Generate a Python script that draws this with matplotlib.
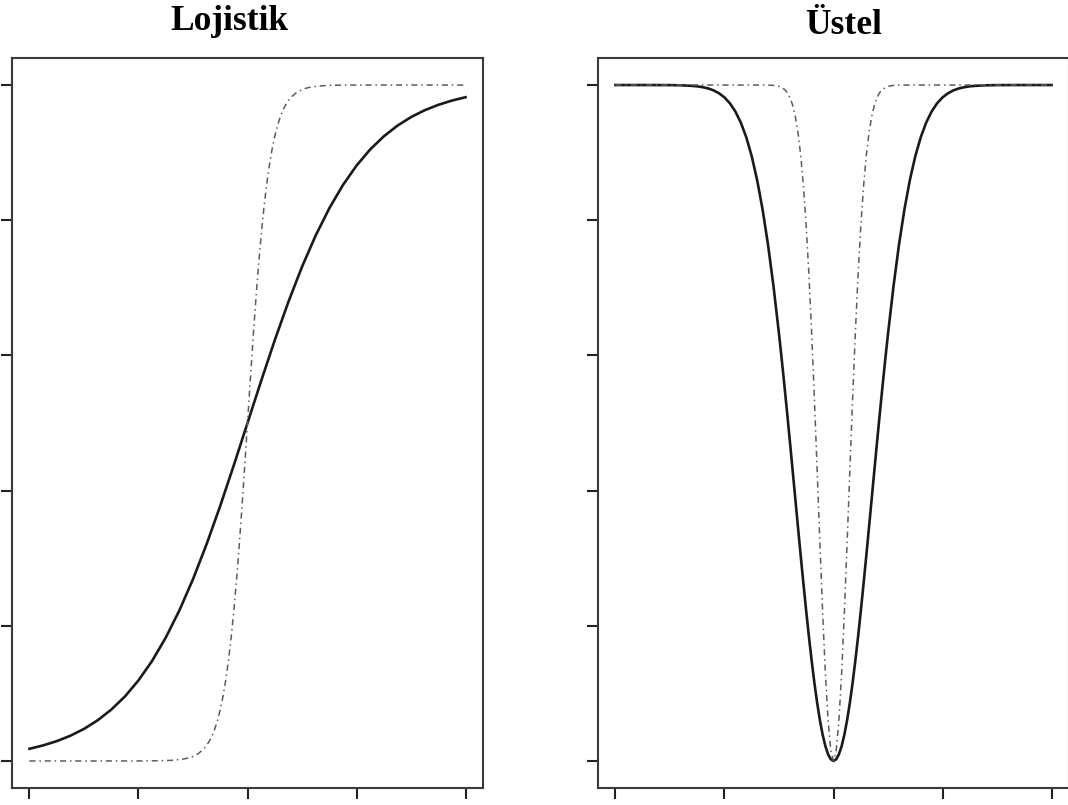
import matplotlib
matplotlib.use("Agg")
import matplotlib.pyplot as plt

# panel titles
titles = ["Lojistik", "Üstel"]
x_ticks = [-4, -2, 0, 2, 4]
y_ticks = [0.0, 0.2, 0.4, 0.6, 0.8, 1.0]

# Lojistik panel, solid curve
lojistik_x = [-4, -3.75, -3.5, -3.25, -3, -2.75, -2.5, -2.25, -2, -1.75, -1.5, -1.25, -1, -0.75, -0.5, -0.25,
              0, 0.25, 0.5, 0.75, 1, 1.25, 1.5, 1.75, 2, 2.25, 2.5, 2.75, 3, 3.25, 3.5, 3.75, 4]
lojistik_y = [0.0180, 0.0230, 0.0293, 0.0373, 0.0474, 0.0601, 0.0759, 0.0953, 0.1192, 0.1480, 0.1824, 0.2227,
              0.2689, 0.3208, 0.3775, 0.4378, 0.5, 0.5622, 0.6225, 0.6792, 0.7311, 0.7773, 0.8176, 0.8520,
              0.8808, 0.9047, 0.9241, 0.9399, 0.9526, 0.9627, 0.9707, 0.9770, 0.9820]

# Lojistik panel, steep dash-dot curve
lojistik_steep_x = [-4, -3, -2, -1.6, -1.4, -1.2, -1.1, -1.0, -0.9, -0.8, -0.75, -0.7, -0.65, -0.6, -0.55,
                    -0.5, -0.45, -0.4, -0.35, -0.3, -0.25, -0.2, -0.15, -0.1, -0.05,
                    0, 0.05, 0.1, 0.15, 0.2, 0.25, 0.3, 0.35, 0.4, 0.45, 0.5, 0.55, 0.6, 0.65, 0.7, 0.75,
                    0.8, 0.9, 1.0, 1.1, 1.2, 1.4, 1.6, 2, 3, 4]
lojistik_steep_y = [0.0, 0.0, 0.0, 0.0003, 0.0009, 0.0025, 0.0041, 0.0067, 0.0110, 0.0180, 0.0230, 0.0293,
                    0.0373, 0.0474, 0.0601, 0.0759, 0.0953, 0.1192, 0.1480, 0.1824, 0.2227, 0.2689, 0.3208,
                    0.3775, 0.4378,
                    0.5, 0.5622, 0.6225, 0.6792, 0.7311, 0.7773, 0.8176, 0.8520, 0.8808, 0.9047, 0.9241,
                    0.9399, 0.9526, 0.9627, 0.9707, 0.9770, 0.9820, 0.9890, 0.9933, 0.9959, 0.9975, 0.9991,
                    0.9997, 1.0, 1.0, 1.0]

# Ustel panel, solid curve
ustel_x = [-4, -3.5, -3, -2.8, -2.6, -2.5, -2.4, -2.3, -2.2, -2.1, -2, -1.9, -1.8, -1.7, -1.6, -1.5, -1.4,
           -1.3, -1.2, -1.1, -1, -0.95, -0.9, -0.85, -0.8, -0.75, -0.7, -0.65, -0.6, -0.55, -0.5, -0.45,
           -0.4, -0.35, -0.3, -0.25, -0.2, -0.15, -0.1, -0.05,
           0, 0.05, 0.1, 0.15, 0.2, 0.25, 0.3, 0.35, 0.4, 0.45, 0.5, 0.55, 0.6, 0.65, 0.7, 0.75, 0.8, 0.85,
           0.9, 0.95, 1, 1.1, 1.2, 1.3, 1.4, 1.5, 1.6, 1.7, 1.8, 1.9, 2, 2.1, 2.2, 2.3, 2.4, 2.5, 2.6, 2.8,
           3, 3.5, 4]
ustel_y = [1.0, 1.0, 0.9999, 0.9996, 0.9988, 0.9981, 0.9968, 0.9950, 0.9921, 0.9878, 0.9817, 0.9729, 0.9608,
           0.9444, 0.9227, 0.8946, 0.8591, 0.8155, 0.7631, 0.7018, 0.6321, 0.5944, 0.5551, 0.5145, 0.4727,
           0.4302, 0.3874, 0.3446, 0.3023, 0.2610, 0.2212, 0.1833, 0.1479, 0.1153, 0.0861, 0.0606, 0.0392,
           0.0222, 0.0100, 0.0025,
           0.0, 0.0025, 0.0100, 0.0222, 0.0392, 0.0606, 0.0861, 0.1153, 0.1479, 0.1833, 0.2212, 0.2610,
           0.3023, 0.3446, 0.3874, 0.4302, 0.4727, 0.5145, 0.5551, 0.5944, 0.6321, 0.7018, 0.7631, 0.8155,
           0.8591, 0.8946, 0.9227, 0.9444, 0.9608, 0.9729, 0.9817, 0.9878, 0.9921, 0.9950, 0.9968, 0.9981,
           0.9988, 0.9996, 0.9999, 1.0, 1.0]

# Ustel panel, narrow dash-dot curve
ustel_narrow_x = [-4, -3, -2, -1.5, -1.2, -1.1, -1.0, -0.9, -0.85, -0.8, -0.75, -0.7, -0.65, -0.6, -0.55,
                  -0.5, -0.45, -0.4, -0.35, -0.3, -0.25, -0.2, -0.15, -0.1, -0.05,
                  0, 0.05, 0.1, 0.15, 0.2, 0.25, 0.3, 0.35, 0.4, 0.45, 0.5, 0.55, 0.6, 0.65, 0.7, 0.75,
                  0.8, 0.85, 0.9, 1.0, 1.1, 1.2, 1.5, 2, 3, 4]
ustel_narrow_y = [1.0, 1.0, 1.0, 1.0, 0.9999, 0.9995, 0.9981, 0.9937, 0.9891, 0.9817, 0.9703, 0.9532,
                  0.9287, 0.8946, 0.8490, 0.7904, 0.7179, 0.6321, 0.5349, 0.4302, 0.3234, 0.2212, 0.1312,
                  0.0606, 0.0155,
                  0.0, 0.0155, 0.0606, 0.1312, 0.2212, 0.3234, 0.4302, 0.5349, 0.6321, 0.7179, 0.7904,
                  0.8490, 0.8946, 0.9287, 0.9532, 0.9703, 0.9817, 0.9891, 0.9937, 0.9981, 0.9995, 0.9999,
                  1.0, 1.0, 1.0, 1.0]


def style_axes(ax):
  # R-like frame: 4% padding, outward ticks, labels fall outside the crop
  ax.set_xlim(-4.32, 4.32)
  ax.set_ylim(-0.04, 1.04)
  ax.set_xticks(x_ticks)
  ax.set_yticks(y_ticks)
  ax.tick_params(direction='out', length=8, width=1.5, color='#222222',
                 labelbottom=False, labelleft=False)
  for sp in ax.spines.values():
    sp.set_color('#3a3a3a')
    sp.set_linewidth(1.5)


def draw(ax, xs, ys, xd, yd):
  ax.plot(xs, ys, color='#1a1a1a', lw=1.9, solid_joinstyle='round')
  ax.plot(xd, yd, color='#5c5c5c', lw=1.1, dashes=(4, 2.5, 1, 2.5))


def main():
  W, H = 1068, 805
  fig = plt.figure(figsize=(W / 100, H / 100), dpi=100)

  ax1 = fig.add_axes([12 / W, 1 - 788 / H, 471 / W, 730 / H])
  ax2 = fig.add_axes([598 / W, 1 - 788 / H, 471 / W, 730 / H])

  draw(ax1, lojistik_x, lojistik_y, lojistik_steep_x, lojistik_steep_y)
  draw(ax2, ustel_x, ustel_y, ustel_narrow_x, ustel_narrow_y)
  style_axes(ax1)
  style_axes(ax2)

  fig.text(229.5 / W, 1 - 30 / H, titles[0], ha='center', va='baseline',
           fontsize=25.5, fontweight='bold', family='Liberation Serif')
  fig.text(844 / W, 1 - 34 / H, titles[1], ha='center', va='baseline',
           fontsize=25.5, fontweight='bold', family='Liberation Serif')

  fig.savefig('out.png', dpi=100)


if __name__ == '__main__':
  main()
